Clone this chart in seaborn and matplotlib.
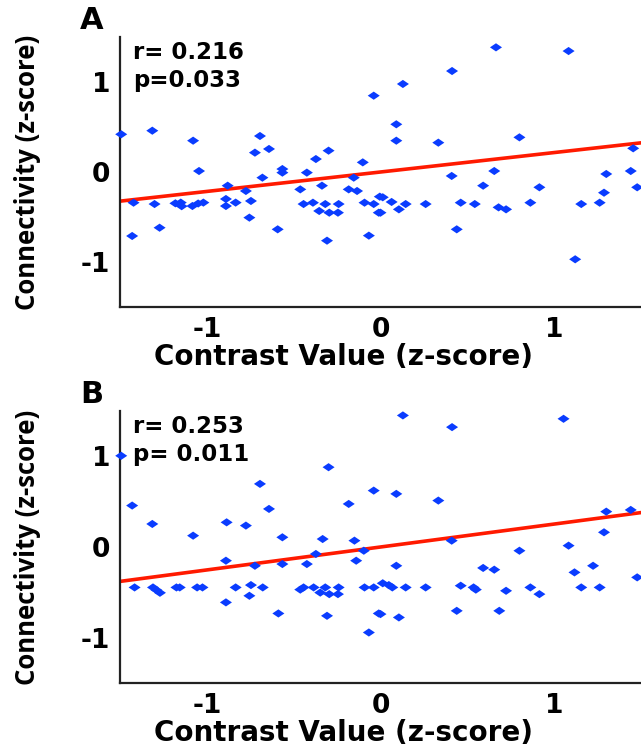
import numpy as np
import pandas as pd
import seaborn as sns
import matplotlib.pyplot as plt
from matplotlib.path import Path

# panel A: contrast value vs connectivity (z-scores)
a_x = [-1.493, -1.314, -1.079, -1.045, -0.694, -0.723, -0.642, -0.68, -0.565, -0.565,
       -0.88, -0.775, -1.422, -1.301, -1.181, -1.15, -1.145, -1.083, -1.05, -1.02,
       -0.89, -0.89, -0.834, -0.746, -0.755, -1.43, -1.272, -0.592, -0.462, -0.424,
       -0.372, -0.299, -0.337, -0.443, -0.389, -0.353, -0.318, -0.295, -0.241, -0.245,
       -0.308, -0.183, -0.154, -0.135, -0.102, -0.092, -0.067, -0.039, -0.039, -0.01,
       -0.004, 0.665, 1.083, 0.412, 0.129, 0.091, 0.091, 0.333, 0.8, 1.455,
       0.41, 0.655, 0.591, 0.915, 1.3, 1.441, 1.478, 1.287, 1.262, 1.156,
       0.013, 0.0, 0.064, 0.106, 0.145, 0.26, 0.462, 0.543, 0.68, 0.723,
       0.863, 0.439, 1.121]
a_y = [0.419, 0.459, 0.348, 0.011, 0.4, 0.215, 0.256, -0.063, 0.033, -0.007,
       -0.152, -0.211, -0.341, -0.356, -0.348, -0.34, -0.38, -0.378, -0.35, -0.34,
       -0.3, -0.378, -0.34, -0.322, -0.507, -0.711, -0.619, -0.637, -0.193, -0.007,
       0.144, 0.237, -0.152, -0.356, -0.341, -0.433, -0.356, -0.452, -0.356, -0.452,
       -0.763, -0.193, -0.063, -0.211, 0.107, -0.341, -0.707, 0.848, -0.356, -0.452,
       -0.274, 1.385, 1.344, 1.122, 0.978, 0.53, 0.348, 0.326, 0.385, 0.263,
       -0.044, 0.011, -0.152, -0.17, -0.022, 0.011, -0.17, -0.23, -0.341, -0.356,
       -0.281, -0.452, -0.333, -0.415, -0.356, -0.356, -0.341, -0.356, -0.393, -0.415,
       -0.341, -0.637, -0.97]

# panel B
b_x = [-1.493, -1.43, -1.314, -1.079, -0.886, -0.775, -0.694, -0.642, -0.565, -0.299,
       -0.333, -0.183, -0.15, -0.14, -0.096, -0.039, -0.89, -0.723, -0.565, -0.424,
       -0.372, -1.416, -1.31, -1.29, -1.27, -1.175, -1.156, -1.056, -1.025, -0.834,
       -0.746, -0.755, -0.678, -0.89, -0.588, -0.462, -0.443, -0.385, -0.347, -0.318,
       -0.295, -0.241, -0.245, -0.308, -0.092, -0.039, -0.067, -0.01,
       0.129, 1.054, 0.412, 0.091, 0.333, 1.3, 1.441, 1.287, 0.41, 1.083,
       0.8, 0.091, 0.591, 0.655, 1.117, 1.224, 1.478, 0.013, 0.048, 0.068,
       0.145, 0.26, 0.462, 0.536, 0.549, 0.723, 0.863, 0.915, 1.156, 1.262,
       0.0, 0.106, 0.439, 0.684]
b_y = [1.006, 0.457, 0.254, 0.125, 0.272, 0.236, 0.696, 0.42, 0.107, 0.88,
       0.088, 0.475, 0.07, -0.151, -0.041, 0.622, -0.151, -0.207, -0.188, -0.188,
       -0.077, -0.446, -0.446, -0.475, -0.505, -0.446, -0.446, -0.446, -0.446, -0.446,
       -0.42, -0.538, -0.446, -0.611, -0.733, -0.47, -0.446, -0.446, -0.503, -0.446,
       -0.52, -0.446, -0.52, -0.759, -0.446, -0.446, -0.943, -0.733,
       1.451, 1.414, 1.322, 0.586, 0.512, 0.39, 0.409, 0.162, 0.07, 0.015,
       -0.041, -0.207, -0.231, -0.25, -0.28, -0.207, -0.335, -0.4, -0.42, -0.446,
       -0.446, -0.446, -0.427, -0.446, -0.47, -0.483, -0.446, -0.52, -0.446, -0.446,
       -0.74, -0.777, -0.704, -0.704]

panel_labels = ['A', 'B']
r_vals = [0.216, 0.253]
stats_text = ['r= 0.216\np=0.033', 'r= 0.253\np= 0.011']

sns.set_style('white')
plt.rcParams['font.family'] = ['DejaVu Sans']
plt.rcParams['font.weight'] = 'bold'
plt.rcParams['text.color'] = 'black'
plt.rcParams['axes.labelcolor'] = 'black'
plt.rcParams['xtick.color'] = 'black'
plt.rcParams['ytick.color'] = 'black'

fig = plt.figure(figsize=(6.41, 7.46), dpi=100)
W, H = 641, 746
# left, top, bottom in pixels for each panel
boxes = [(120, 37, 307), (120, 411, 683)]

# squashed diamond like the original
diamond = Path([(-1, 0), (0, 0.68), (1, 0), (0, -0.68), (-1, 0)],
               [Path.MOVETO, Path.LINETO, Path.LINETO, Path.LINETO, Path.CLOSEPOLY])

for i, (xs, ys) in enumerate([(a_x, a_y), (b_x, b_y)]):
    l, t, b = boxes[i]
    aw, ah = W - l, b - t
    ax = fig.add_axes([l / W, 1 - b / H, aw / W, ah / H])
    df = pd.DataFrame({'x': xs, 'y': ys})

    line_x = np.array([-1.5, 1.5])
    sns.lineplot(x=line_x, y=r_vals[i] * line_x, color='#ff1a00', linewidth=2.6, ax=ax)
    sns.scatterplot(data=df, x='x', y='y', marker=diamond, s=75, color='#0a3cff',
                    edgecolor='none', ax=ax, clip_on=False, zorder=3)

    ax.set_xlim(-1.5, 1.5)
    ax.set_ylim(-1.5, 1.5)
    ax.set_xticks([-1, 0, 1])
    ax.set_yticks([-1, 0, 1])
    ax.set_xticklabels(['-1', '0', '1'])
    ax.set_yticklabels(['-1', '0', '1'])
    ax.tick_params(direction='in', length=4, width=1.5, color='#222222',
                   labelcolor='black', labelsize=19, pad=7)
    for side in ['top', 'right']:
        ax.spines[side].set_visible(False)
    for side in ['left', 'bottom']:
        ax.spines[side].set_linewidth(1.6)
        ax.spines[side].set_color('#222222')

    ax.set_xlabel('Contrast Value (z-score)', fontsize=20, fontweight='bold')
    ax.xaxis.set_label_coords((344 - l) / aw, -36 / ah)
    ax.set_ylabel('Connectivity (z-score)', fontsize=18.5, fontweight='bold',
                  family=['Open Sans', 'DejaVu Sans'])
    ax.yaxis.set_label_coords((41 - l) / aw, 0.5)
    ax.text(0.025, 0.985, stats_text[i], transform=ax.transAxes, fontsize=16.5,
            fontweight='bold', va='top', ha='left', linespacing=1.3)
    fig.text(80 / W, 1 - (t - 31) / H, panel_labels[i], fontsize=22,
             fontweight='bold', va='top', ha='left')

fig.savefig('out.png', dpi=100)
